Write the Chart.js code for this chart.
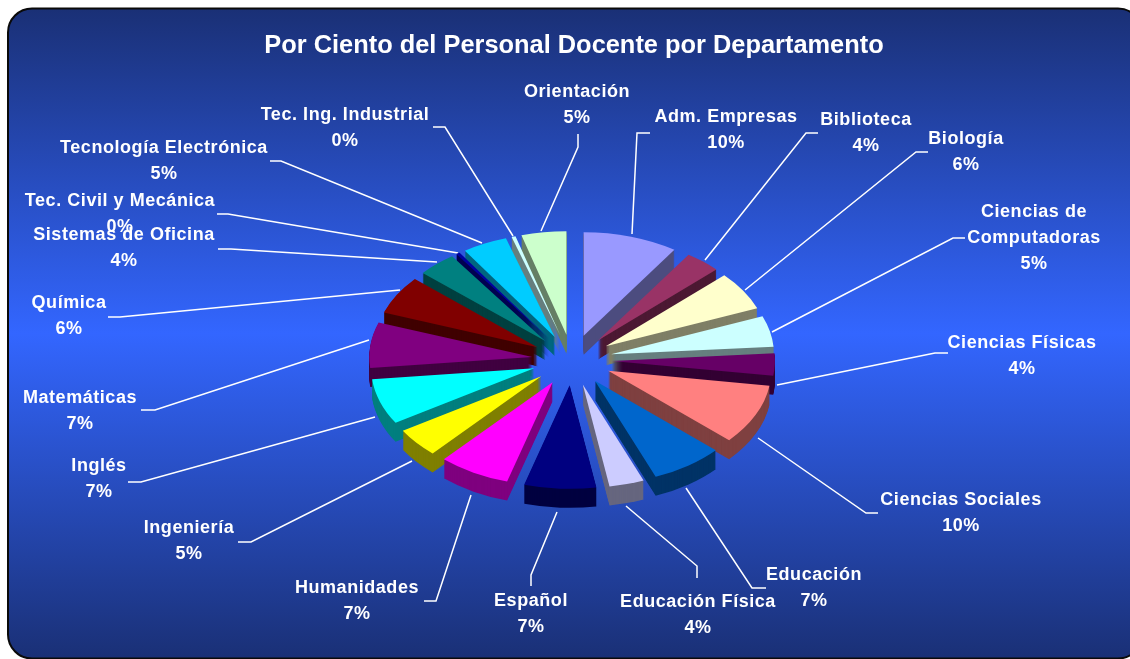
<!DOCTYPE html>
<html><head><meta charset="utf-8">
<style>html,body{margin:0;padding:0;background:#fff}canvas{display:block}</style>
<script src="https://cdn.jsdelivr.net/npm/chart.js@4"></script>
</head><body>
<div style="width:1130px;height:659px"><canvas id="c" width="1130" height="659"></canvas></div>
<script>
const titleText = 'Por Ciento del Personal Docente por Departamento';
const categories = ['Adm. Empresas','Biblioteca','Biología','Ciencias de Computadoras','Ciencias Físicas','Ciencias Sociales','Educación','Educación Física','Español','Humanidades','Ingeniería','Inglés','Matemáticas','Química','Sistemas de Oficina','Tec. Civil y Mecánica','Tecnología Electrónica','Tec. Ing. Industrial','Orientación'];
const values = [9.5,3.6,6.1,4.9,3.5,9.5,7.3,3.5,7.2,7.2,4.6,7.2,7.2,6.1,3.9,0.4,4.5,0.4,4.5];
const colors = ['#9999FF','#993366','#FFFFCC','#CCFFFF','#660066','#FF8080','#0066CC','#CCCCFF','#000080','#FF00FF','#FFFF00','#00FFFF','#800080','#800000','#008080','#0000A0','#00CCFF','#CCFFFF','#CCFFCC'];
// label text layout: centre x, first line y; wrapped name lines where needed
const labelPos = [[726,116],[866,119],[966,138],[1034,211],[1022,342],[961,499],[814,574],[698,601],[531,600],[357,587],[189,527],[99,465],[80,397],[69,302],[124,234],[120,200],[164,147],[345,114],[577,91]];
const leaders = [
 [[632,234],[637,133],[650,133]],[[705,260],[806,133],[818,133]],[[745,290],[916,152],[928,152]],
 [[772,332],[953,238],[965,238]],[[777,385],[935,353],[948,353]],[[758,438],[866,513],[878,513]],
 [[686,488],[752,588],[766,588]],[[626,506],[697,566],[697,578]],[[557,512],[531,575],[531,586]],
 [[471,495],[436,601],[424,601]],[[412,461],[251,542],[238,542]],[[375,417],[141,482],[128,482]],
 [[369,340],[155,410],[141,410]],[[400,290],[120,317],[108,317]],[[437,262],[231,249],[218,249]],
 [[458,253],[228,214],[217,214]],[[482,243],[281,161],[270,161]],[[513,236],[445,127],[433,127]],
 [[541,231],[578,147],[578,134]]];
const CY = 360, SQ = 0.635, EXPLODE = 40, DEPTH = 19, LINE = 26;

function dark(hex){
  const n = parseInt(hex.slice(1),16);
  return 'rgb('+((n>>16&255)>>1)+','+((n>>8&255)>>1)+','+((n&255)>>1)+')';
}
const scene = {
  id:'scene',
  beforeDraw(chart){
    const c = chart.ctx;
    c.save();
    c.fillStyle='#fff'; c.fillRect(0,0,1130,659);
    const g = c.createLinearGradient(0,9,0,658);
    g.addColorStop(0,'#1A3076'); g.addColorStop(0.5,'#3366FF'); g.addColorStop(1,'#1A3076');
    c.beginPath(); c.roundRect(8,8.5,1134,650,24);
    c.fillStyle=g; c.fill();
    c.lineWidth=2; c.strokeStyle='#0a0a0a'; c.stroke();
    c.strokeStyle='#fff'; c.lineWidth=1.5;
    leaders.forEach(l=>{c.beginPath();l.forEach((p,i)=>i?c.lineTo(p[0],p[1]):c.moveTo(p[0],p[1]));c.stroke();});
    c.restore();
  },
  beforeDatasetDraw(chart,args){
    const c = chart.ctx, meta = args.meta;
    const arcs = meta.data.map((a,i)=>({a,i,m:(a.startAngle+a.endAngle)/2}));
    arcs.sort((p,q)=>Math.sin(p.m)-Math.sin(q.m));
    const cy0 = chart.chartArea.top+chart.chartArea.height/2;
    arcs.forEach(({a,i,m})=>{
      const ex = Math.cos(m)*EXPLODE, ey = Math.sin(m)*EXPLODE;
      const side = Object.create(a,{options:{value:Object.assign({},a.options,{backgroundColor:dark(colors[i]),borderColor:dark(colors[i]),borderWidth:0})}});
      for(let d=DEPTH;d>=0;d--){
        c.save();
        c.translate(0,CY+d); c.scale(1,SQ); c.translate(ex,ey-cy0);
        (d?side:a).draw(c);
        c.restore();
      }
    });
    return false;
  },
  afterDraw(chart){
    const c = chart.ctx;
    c.save();
    c.fillStyle='#fff'; c.textAlign='center'; c.textBaseline='middle';
    c.font='bold 25.4px "Liberation Sans"'; c.letterSpacing='0px';
    c.fillText(titleText,574,46);
    c.font='bold 18px "Liberation Sans"'; c.letterSpacing='0.55px';
    categories.forEach((name,i)=>{
      const [x,y]=labelPos[i];
      const lines = name==='Ciencias de Computadoras'?['Ciencias de','Computadoras']:[name];
      lines.forEach((s,k)=>c.fillText(s,x,y+1+k*LINE));
      c.fillText(Math.round(values[i])+'%',x,y+1+lines.length*LINE);
    });
    c.restore();
  }
};
new Chart(document.getElementById('c'),{
  type:'pie',
  data:{labels:categories,datasets:[{data:values,backgroundColor:colors,borderWidth:0}]},
  plugins:[scene],
  options:{
    responsive:false,animation:false,
    layout:{padding:{left:409,right:395,top:100,bottom:233}},
    plugins:{legend:{display:false},tooltip:{enabled:false},title:{display:false}}
  }
});
</script>
</body></html>
